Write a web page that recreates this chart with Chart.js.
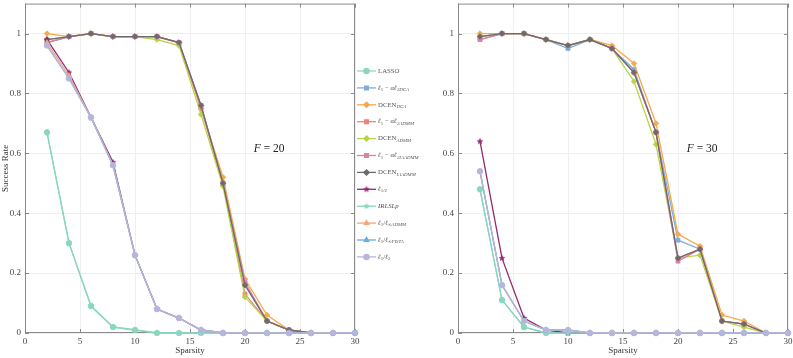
<!DOCTYPE html>
<html>
<head>
<meta charset="utf-8">
<script src="https://cdn.jsdelivr.net/npm/chart.js@4.4.1/dist/chart.umd.min.js"></script>
<style>
  html, body { margin: 0; padding: 0; background: #fff; }
  #wrap { position: relative; width: 793px; height: 358px; }
  #c1 { position: absolute; left: 0; top: 0; }
  #c2 { position: absolute; left: 440px; top: 0; }
</style>
</head>
<body>
<div id="wrap">
  <canvas id="c1" width="440" height="358"></canvas>
  <canvas id="c2" width="353" height="358"></canvas>
</div>
<script>
// --- dati ---
const sparsity = [2, 4, 6, 8, 10, 12, 14, 16, 18, 20, 22, 24, 26, 28, 30];
const xTicks = [0, 5, 10, 15, 20, 25, 30];
const yTicks = [0, 0.2, 0.4, 0.6, 0.8, 1];

// F = 20
const lasso20      = [0.67, 0.30, 0.09, 0.02, 0.01, 0, 0, 0, 0, 0, 0, 0, 0, 0, 0];
const dca20        = [0.97, 0.99, 1, 0.99, 0.99, 0.99, 0.97, 0.76, 0.50, 0.16, 0.04, 0.01, 0, 0, 0];
const dcenDca20    = [1.00, 0.99, 1, 0.99, 0.99, 0.99, 0.97, 0.75, 0.52, 0.18, 0.06, 0.01, 0, 0, 0];
const admm20       = [0.97, 0.99, 1, 0.99, 0.99, 0.99, 0.97, 0.75, 0.50, 0.13, 0.04, 0.01, 0, 0, 0];
const dcenAdmm20   = [0.98, 0.99, 1, 0.99, 0.99, 0.98, 0.96, 0.73, 0.49, 0.12, 0.04, 0.01, 0, 0, 0];
const iaadmm20     = [0.97, 0.99, 1, 0.99, 0.99, 0.99, 0.97, 0.76, 0.50, 0.17, 0.04, 0.01, 0, 0, 0];
const dcenIaadmm20 = [0.98, 0.99, 1, 0.99, 0.99, 0.99, 0.97, 0.76, 0.50, 0.16, 0.04, 0.01, 0, 0, 0];
const lHalf20      = [0.98, 0.87, 0.72, 0.57, 0.26, 0.08, 0.05, 0.01, 0, 0, 0, 0, 0, 0, 0];
const irls20       = [0.67, 0.30, 0.09, 0.02, 0.01, 0, 0, 0, 0, 0, 0, 0, 0, 0, 0];
const linfAdmm20   = [0.97, 0.86, 0.72, 0.56, 0.26, 0.08, 0.05, 0.01, 0, 0, 0, 0, 0, 0, 0];
const linfFista20  = [0.96, 0.85, 0.72, 0.56, 0.26, 0.08, 0.05, 0.01, 0, 0, 0, 0, 0, 0, 0];
const l1l2_20      = [0.96, 0.85, 0.72, 0.56, 0.26, 0.08, 0.05, 0.01, 0, 0, 0, 0, 0, 0, 0];

// F = 30
const lasso30      = [0.48, 0.11, 0.02, 0, 0, 0, 0, 0, 0, 0, 0, 0, 0, 0, 0];
const dca30        = [0.99, 1, 1, 0.98, 0.95, 0.98, 0.95, 0.88, 0.67, 0.31, 0.28, 0.04, 0.03, 0, 0];
const dcenDca30    = [1.00, 1, 1, 0.98, 0.96, 0.98, 0.96, 0.90, 0.70, 0.33, 0.29, 0.06, 0.04, 0, 0];
const admm30       = [0.98, 1, 1, 0.98, 0.96, 0.98, 0.95, 0.87, 0.67, 0.25, 0.28, 0.04, 0.03, 0, 0];
const dcenAdmm30   = [0.99, 1, 1, 0.98, 0.96, 0.98, 0.95, 0.84, 0.63, 0.25, 0.26, 0.04, 0.02, 0, 0];
const iaadmm30     = [0.98, 1, 1, 0.98, 0.96, 0.98, 0.95, 0.87, 0.67, 0.24, 0.28, 0.04, 0.03, 0, 0];
const dcenIaadmm30 = [0.99, 1, 1, 0.98, 0.96, 0.98, 0.95, 0.87, 0.67, 0.25, 0.28, 0.04, 0.03, 0, 0];
const lHalf30      = [0.64, 0.25, 0.05, 0.01, 0, 0, 0, 0, 0, 0, 0, 0, 0, 0, 0];
const irls30       = [0.48, 0.11, 0.02, 0, 0, 0, 0, 0, 0, 0, 0, 0, 0, 0, 0];
const linfAdmm30   = [0.54, 0.16, 0.04, 0.01, 0.01, 0, 0, 0, 0, 0, 0, 0, 0, 0, 0];
const linfFista30  = [0.54, 0.16, 0.04, 0.01, 0.01, 0, 0, 0, 0, 0, 0, 0, 0, 0, 0];
const l1l2_30      = [0.54, 0.16, 0.04, 0.01, 0.01, 0, 0, 0, 0, 0, 0, 0, 0, 0, 0];

const FONT = '"Liberation Serif", "DejaVu Serif", serif';

// stella piena per i marker
function stella(colore, r) {
    const s = Math.ceil(r * 2 + 2);
    const c = document.createElement('canvas');
    c.width = s; c.height = s;
    const g = c.getContext('2d');
    g.beginPath();
    for (let k = 0; k < 10; k++) {
        const a = -Math.PI / 2 + k * Math.PI / 5;
        const rr = k % 2 ? r * 0.45 : r;
        g.lineTo(s / 2 + rr * Math.cos(a), s / 2 + rr * Math.sin(a));
    }
    g.closePath();
    g.fillStyle = colore;
    g.fill();
    return c;
}

// etichette legenda: [testo, stile]  n=normale i=corsivo s=pedice si=pedice corsivo
const serie = [
    { nome: [['LASSO', 'n']], colore: '#8fd5c2', marker: 'circle', d20: lasso20, d30: lasso30 },
    { nome: [['ℓ', 'i'], ['1', 's'], [' − ', 'n'], ['αℓ', 'i'], ['2DCA', 'si']], colore: '#80aedb', marker: 'rect', d20: dca20, d30: dca30 },
    { nome: [['DCEN', 'n'], ['DCA', 'si']], colore: '#f7a84a', marker: 'rectRot', d20: dcenDca20, d30: dcenDca30 },
    { nome: [['ℓ', 'i'], ['1', 's'], [' − ', 'n'], ['αℓ', 'i'], ['2ADMM', 'si']], colore: '#f08278', marker: 'rect', d20: admm20, d30: admm30 },
    { nome: [['DCEN', 'n'], ['ADMM', 'si']], colore: '#b5d444', marker: 'rectRot', d20: dcenAdmm20, d30: dcenAdmm30 },
    { nome: [['ℓ', 'i'], ['1', 's'], [' − ', 'n'], ['αℓ', 'i'], ['2IAADMM', 'si']], colore: '#d884a8', marker: 'rect', d20: iaadmm20, d30: iaadmm30 },
    { nome: [['DCEN', 'n'], ['IAADMM', 'si']], colore: '#6e6a6c', marker: 'rectRot', d20: dcenIaadmm20, d30: dcenIaadmm30 },
    { nome: [['ℓ', 'i'], ['1/2', 's']], colore: '#942a72', marker: stella('#942a72', 3.6), d20: lHalf20, d30: lHalf30 },
    { nome: [['IRLSLp', 'i']], colore: '#88d6c0', marker: stella('#88d6c0', 3.6), d20: irls20, d30: irls30 },
    { nome: [['ℓ', 'i'], ['1', 's'], ['/', 'n'], ['ℓ', 'i'], ['∞ADMM', 'si']], colore: '#f5a57a', marker: 'triangle', d20: linfAdmm20, d30: linfAdmm30 },
    { nome: [['ℓ', 'i'], ['1', 's'], ['/', 'n'], ['ℓ', 'i'], ['∞FISTA', 'si']], colore: '#66b0e0', marker: 'triangle', d20: linfFista20, d30: linfFista30 },
    { nome: [['ℓ', 'i'], ['1', 's'], ['/', 'n'], ['ℓ', 'i'], ['2', 's']], colore: '#b6b6dc', marker: 'circle', d20: l1l2_20, d30: l1l2_30 }
];

function creaDataset(chiave) {
    return serie.map(function (s, i) {
        return {
            label: 'serie' + i,
            data: sparsity.map(function (x, j) { return { x: x, y: s[chiave][j] }; }),
            borderColor: s.colore,
            backgroundColor: s.colore,
            borderWidth: 1.3,
            pointStyle: s.marker,
            pointRadius: 2.8,
            pointBorderWidth: 0.8,
            pointHoverRadius: 2.8,
            clip: false,
            order: serie.length - i
        };
    });
}

// cornice con tacche interne
const cornice = {
    id: 'cornice',
    beforeDatasetsDraw(chart) {
        const a = chart.chartArea, ctx = chart.ctx;
        const sx = chart.scales.x, sy = chart.scales.y;
        ctx.save();
        ctx.strokeStyle = '#8a8a8a';
        ctx.lineWidth = 1;
        ctx.strokeRect(a.left + 0.5, a.top + 0.5, a.right - a.left - 1, a.bottom - a.top - 1);
        ctx.beginPath();
        xTicks.forEach(function (v) {
            const px = Math.round(sx.getPixelForValue(v)) + 0.5;
            ctx.moveTo(px, a.bottom); ctx.lineTo(px, a.bottom - 4);
            ctx.moveTo(px, a.top); ctx.lineTo(px, a.top + 4);
        });
        yTicks.forEach(function (v) {
            const py = Math.round(sy.getPixelForValue(v)) + 0.5;
            ctx.moveTo(a.left, py); ctx.lineTo(a.left + 4, py);
            ctx.moveTo(a.right, py); ctx.lineTo(a.right - 4, py);
        });
        ctx.stroke();
        ctx.restore();
    }
};

// testo con pedici
function testoRicco(ctx, pezzi, x, y, dim) {
    pezzi.forEach(function (p) {
        const st = p[1];
        const sub = st === 's' || st === 'si';
        const it = st === 'i' || st === 'si';
        const size = sub ? dim * 0.72 : dim;
        ctx.font = (it ? 'italic ' : '') + size + 'px ' + FONT;
        ctx.fillText(p[0], x, sub ? y + dim * 0.28 : y);
        x += ctx.measureText(p[0]).width;
    });
}

const legenda = {
    id: 'legenda',
    afterDraw(chart) {
        const ctx = chart.ctx;
        const x0 = 357, x1 = 376;
        ctx.save();
        ctx.textBaseline = 'middle';
        serie.forEach(function (s, i) {
            const y = 71 + i * 16.9;
            ctx.strokeStyle = s.colore;
            ctx.fillStyle = s.colore;
            ctx.lineWidth = 1.3;
            ctx.beginPath();
            ctx.moveTo(x0, y); ctx.lineTo(x1, y);
            ctx.stroke();
            Chart.helpers.drawPoint(ctx, { pointStyle: s.marker, radius: 2.6, borderWidth: 0.8, rotation: 0 }, (x0 + x1) / 2, y);
            ctx.fillStyle = '#555';
            testoRicco(ctx, s.nome, 378, y, 6.8);
        });
        ctx.restore();
    }
};

const etichettaF = {
    id: 'etichettaF',
    afterDraw(chart) {
        const o = chart.options.plugins.etichettaF;
        const ctx = chart.ctx;
        const px = chart.scales.x.getPixelForValue(o.x);
        const py = chart.scales.y.getPixelForValue(o.y);
        ctx.save();
        ctx.fillStyle = '#222';
        ctx.textBaseline = 'middle';
        testoRicco(ctx, [['F', 'i'], [' = ' + o.testo, 'n']], px, py, 11.5);
        ctx.restore();
    }
};

function opzioni(conTitoloY, larghezzaY, paddingDestro, fTesto) {
    return {
        responsive: false,
        animation: false,
        layout: { padding: { top: 1, right: paddingDestro, left: 0, bottom: 0 } },
        plugins: {
            legend: { display: false },
            tooltip: { enabled: false },
            etichettaF: { x: 20.8, y: 0.615, testo: fTesto }
        },
        scales: {
            x: {
                type: 'linear',
                min: 0,
                max: 30,
                afterBuildTicks: function (s) { s.ticks = xTicks.map(function (v) { return { value: v }; }); },
                afterFit: function (s) { s.height = 25; s.paddingLeft = 0; s.paddingRight = 0; },
                grid: { color: '#efefef', drawTicks: false },
                border: { display: false },
                ticks: { padding: 3, color: '#444', autoSkip: false, maxRotation: 0, font: { family: FONT, size: 9 } },
                title: { display: true, text: 'Sparsity', color: '#333', padding: { top: 0, bottom: 2 }, font: { family: FONT, size: 9 } }
            },
            y: {
                type: 'linear',
                min: 0,
                max: 1.1,
                afterBuildTicks: function (s) { s.ticks = yTicks.map(function (v) { return { value: v }; }); },
                afterFit: function (s) { s.width = larghezzaY; s.paddingTop = 0; s.paddingBottom = 0; },
                grid: { color: '#efefef', drawTicks: false },
                border: { display: false },
                ticks: {
                    padding: 4,
                    color: '#444',
                    font: { family: FONT, size: 9 },
                    callback: function (v) { return String(Math.round(v * 10) / 10); }
                },
                title: { display: conTitoloY, text: 'Success Rate', color: '#333', padding: 0, font: { family: FONT, size: 9 } }
            }
        }
    };
}

new Chart(document.getElementById('c1').getContext('2d'), {
    type: 'line',
    data: { datasets: creaDataset('d20') },
    options: opzioni(true, 25, 85, '20'),
    plugins: [cornice, legenda, etichettaF]
});

new Chart(document.getElementById('c2').getContext('2d'), {
    type: 'line',
    data: { datasets: creaDataset('d30') },
    options: opzioni(false, 18, 5, '30'),
    plugins: [cornice, etichettaF]
});
</script>
</body>
</html>
